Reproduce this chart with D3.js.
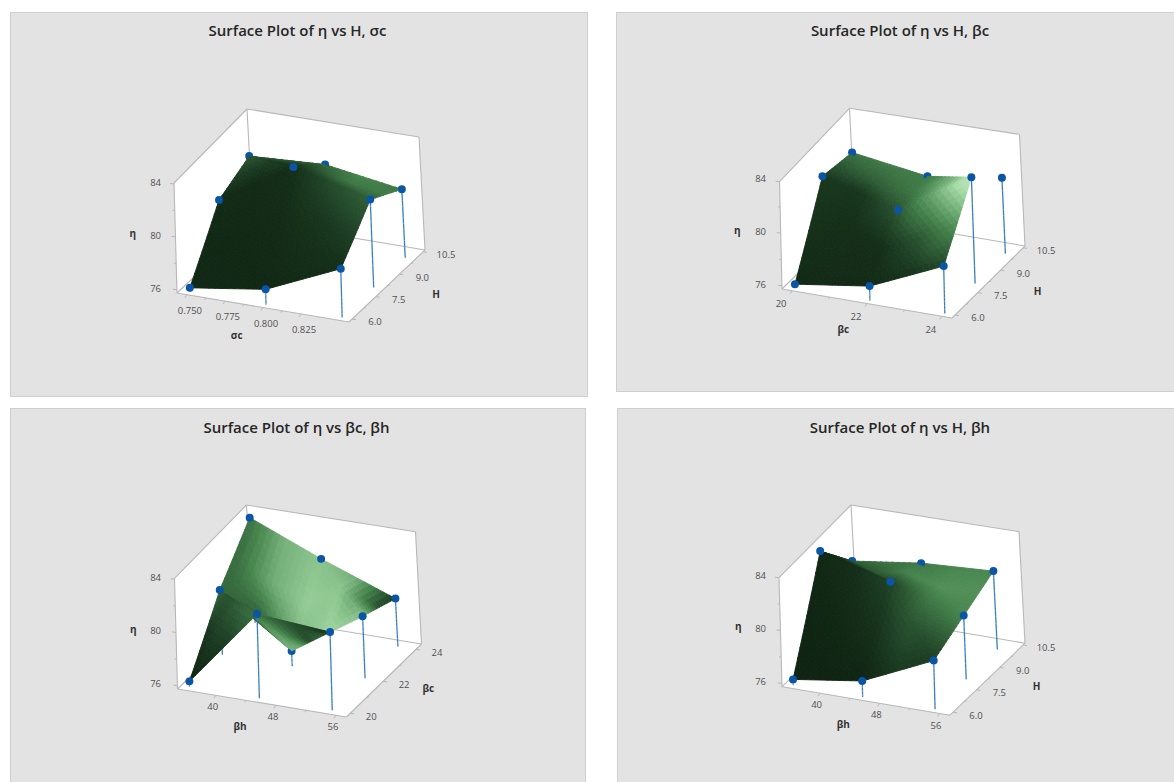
<!DOCTYPE html>
<html><head><meta charset="utf-8">
<script src="https://cdn.jsdelivr.net/npm/d3@7"></script>
<style>html,body{margin:0;padding:0;background:#fff;overflow:hidden}svg{display:block}text{font-family:"Open Sans","Noto Sans",sans-serif}</style>
</head><body><svg id="c" width="1174" height="782"></svg>
<script>
// ---- data ----
const titles = ["Surface Plot of η vs H, σc","Surface Plot of η vs H, βc","Surface Plot of η vs βc, βh","Surface Plot of η vs H, βh"];
const xNames = ["σc","βc","βh","βh"];
const yNames = ["H","H","βc","H"];
const zName = "η";
const sigmaLevels = [0.75,0.80,0.85];
const betaCLevels = [20,22,24];
const betaHLevels = [36,45.3,55];
const hLevels = [6,8,10];
const etaHSigma = [[76.05,76.9,79.4],[80.4,83.8,82.3],[81.4,81.7,80.8]];
const etaHBetaC = [[76.03,76.84,79.26],[81.92,80.31,83.59],[81.43,80.54,81.32]];
const etaBetaCBetaH = [[76.15,82.04,81.57],[80.6,76.9,80.36],[83.63,81.38,79.3]];
const etaHBetaH = [[76.19,76.95,79.37],[83.59,82.12,80.48],[80.58,81.27,81.55]];
const sigmaTicks = [0.75,0.775,0.80,0.825];
const betaCTicks = [20,22,24];
const betaHTicks = [40,48,56];
const hTicks = [6,7.5,9,10.5];
const etaTicks = [76,80,84];
// ---- surface tone stops, 0 dark to 1+ light, front row first ----
const tones = [
 [[.02,.02,.02,.03,.05],[.02,.02,.03,.08,.15],[.03,.03,.05,.2,.3],[.12,.12,.2,.42,.45],[.25,.3,.35,.5,.42]],
 [[.02,.03,.03,.06,.15],[.06,.05,.05,.25,.6],[.1,.08,.25,.7,1.2],[.25,.3,.42,.7,.8],[.4,.45,.45,.5,.6]],
 [[0,.1,.4,.2,.03],[.05,.3,.65,.2,.75],[.35,.25,.75,.95,.85],[.35,.7,.9,.85,.2],[.4,.75,.85,.7,.1]],
 [[0,0,0,.1,.12],[0,.02,.06,.25,.3],[.02,.05,.15,.42,.5],[.08,.25,.48,.55,.55],[.3,.42,.42,.5,.5]]
];
// ---- layout ----
const panels = [
 {r:[10,12,577,384],tx:297.5,ty:31,o:[177,293],ux:[172,29],uy:[76,-72],uz:[-3,-110],tv:2,tu:1,zTop:84.07,xs:sigmaLevels,ys:hLevels,zz:etaHSigma,xd:[.7435,.8565],yd:[5.807,10.626],xt:sigmaTicks,yt:hTicks,xf:d3.format(".3f"),yf:d3.format(".1f"),xo:[3,16],yo:[23,3],xl:[236.7,335],yl:[436,294],zl:[132.7,233.3],zx:161},
 {r:[616,12,560,379],tx:900,ty:31,o:[782,289],ux:[170,29],uy:[73,-72],uz:[-2.5,-107.3],tv:1.4,tu:3,zTop:83.92,xs:betaCLevels,ys:hLevels,zz:etaHBetaC,xd:[19.73,24.27],yd:[5.807,10.626],xt:betaCTicks,yt:hTicks,xf:d3.format("d"),yf:d3.format(".1f"),xo:[-11,13],yo:[23,3],xl:[843.3,329],yl:[1037.7,291.7],zl:[737.3,230.7],zx:766},
 {r:[10,408,575,376],tx:296.5,ty:428,o:[177.5,689],ux:[169,28],uy:[75,-73],uz:[-3,-110.7],tv:.3,tu:1.3,zTop:84.07,xs:betaHLevels,ys:betaCLevels,zz:etaBetaCBetaH,xd:[34.9,57.4],yd:[19.77,24.34],xt:betaHTicks,yt:betaCTicks,xf:d3.format("d"),yf:d3.format("d"),xo:[-3,11.5],yo:[21,3],xl:[240,726],yl:[428.3,688.3],zl:[133.3,629],zx:161},
 {r:[617,408,559,376],tx:900,ty:428,o:[782,686.7],ux:[168,28.5],uy:[75,-72],uz:[-3,-109],tv:.7,tu:1.9,zTop:83.98,xs:betaHLevels,ys:hLevels,zz:etaHBetaH,xd:[34.9,57.4],yd:[5.807,10.626],xt:betaHTicks,yt:hTicks,xf:d3.format("d"),yf:d3.format(".1f"),xo:[-3.5,11.8],yo:[23,3],xl:[843.3,724],yl:[1036.7,686.7],zl:[738.3,626.7],zx:766}
];
const tone = d3.scaleLinear().domain([0,.15,.5,1,1.2]).range(["#0f2412","#1f4226","#48874f","#aadfaa","#c4e0c4"]).clamp(true);
const svg = d3.select("#c");
const N = 12;

panels.forEach((p,pi)=>{
  const g = svg.append("g");
  g.append("rect").attr("x",p.r[0]+.5).attr("y",p.r[1]+.5).attr("width",p.r[2]).attr("height",p.r[3]).attr("fill","#e3e3e3").attr("stroke","#cfcfcf");
  g.append("text").attr("x",p.tx).attr("y",p.ty+5).attr("text-anchor","middle").attr("font-size",15).attr("font-weight",600).attr("fill","#262626").text(titles[pi]);
  const xS = d3.scaleLinear().domain(p.xd).range([0,1]);
  const yS = d3.scaleLinear().domain(p.yd).range([0,1]);
  const zScale = d3.scaleLinear().domain([75.75,p.zTop]).range([0,1]);
  const P = (u,v,w)=>[p.o[0]+p.ux[0]*u+p.uy[0]*v+(p.uz[0]-3*v)*w, p.o[1]+p.ux[1]*u+p.uy[1]*v+(p.uz[1]-p.tv*v-p.tu*u)*w];
  const det = p.ux[0]*p.uy[1]-p.uy[0]*p.ux[1];
  const a = (-p.uz[0]*p.uy[1]+p.uy[0]*p.uz[1])/det;
  const b = (-p.ux[0]*p.uz[1]+p.uz[0]*p.ux[1])/det;
  const near = (u,v,w)=>a*u+b*v+w;
  const line = d3.line();
  // box
  const box = g.append("g");
  box.append("path").attr("d",line([P(0,0,0),P(1,0,0),P(1,1,0),P(1,1,1),P(0,1,1),P(0,0,1)])+"Z").attr("fill","#fff");
  const edges = [[[0,0,0],[1,0,0]],[[1,0,0],[1,1,0]],[[1,1,0],[0,1,0]],[[0,1,0],[0,0,0]],[[0,0,0],[0,0,1]],[[0,0,1],[0,1,1]],[[0,1,1],[1,1,1]],[[1,1,1],[1,1,0]],[[0,1,0],[0,1,1]]];
  box.selectAll(".e").data(edges).join("path").attr("fill","none").attr("stroke","#b8b8b8").attr("stroke-width",1.1)
    .attr("d",d=>line(d.map(q=>P(...q))));
  // ticks
  const tick = (q,dx,dy)=>{const s=P(...q);box.append("path").attr("d",line([s,[s[0]+dx,s[1]+dy]])).attr("stroke","#b8b8b8").attr("fill","none");};
  const lab = (x,y,t,anchor,bold)=>g.append("text").attr("x",x).attr("y",y).attr("text-anchor",anchor||"middle").attr("dy","0.35em").attr("font-size",bold?10:9.5).attr("font-weight",bold?700:400).attr("fill",bold?"#333":"#505050").text(t);
  d3.range(76,84.5,2).forEach(t=>tick([0,0,Math.min(1,zScale(t))],-(t%4?2:4),t%4?0:-.5));
  etaTicks.forEach(t=>lab(p.zx,P(0,0,zScale(t))[1]-1.5,t,"end"));
  const xTickStep = p.xt[1]-p.xt[0], yTickStep=p.yt[1]-p.yt[0];
  d3.range(p.xt[0],p.xt[p.xt.length-1]+xTickStep/4,xTickStep/2).forEach((t,i)=>{const u=xS(t);if(u<=1)tick([u,0,0],i%2?-1:-2,i%2?2:3);});
  d3.range(p.yt[0],p.yt[p.yt.length-1]+yTickStep/4,yTickStep/2).forEach((t,i)=>{const v=yS(t);if(v<=1)tick([1,v,0],i%2?2:4,i%2?0:.5);});
  p.xt.forEach(t=>{const s=P(xS(t),0,0);lab(s[0]+p.xo[0],s[1]+p.xo[1],p.xf(t));});
  p.yt.forEach(t=>{const s=P(1,yS(t),0);lab(s[0]+p.yo[0],s[1]+p.yo[1],p.yf(t));});
  lab(p.xl[0],p.xl[1],xNames[pi],"middle",true);
  lab(p.yl[0],p.yl[1],yNames[pi],"middle",true);
  lab(p.zl[0],p.zl[1],zName,"middle",true);
  // surface: each grid cell is split along its anti-diagonal into two flat facets
  const mix=(A,B,t)=>A+(B-A)*t;
  const at=(fx,fy)=>{
    const i=Math.min(Math.floor(fx),1),j=Math.min(Math.floor(fy),1),s=fx-i,t=fy-j,Z=p.zz;
    const z = s+t<=1 ? Z[j][i]+s*(Z[j][i+1]-Z[j][i])+t*(Z[j+1][i]-Z[j][i])
                     : Z[j+1][i+1]+(1-s)*(Z[j+1][i]-Z[j+1][i+1])+(1-t)*(Z[j][i+1]-Z[j+1][i+1]);
    return [xS(mix(p.xs[i],p.xs[i+1],s)),yS(mix(p.ys[j],p.ys[j+1],t)),zScale(z)];
  };
  const shade=(fx,fy)=>{
    const X=Math.min(fx*2,3.9999),Y=Math.min(fy*2,3.9999),i=Math.floor(X),j=Math.floor(Y),s=X-i,t=Y-j,T=tones[pi];
    return mix(mix(T[j][i],T[j][i+1],s),mix(T[j+1][i],T[j+1][i+1],s),t);
  };
  const els=[];
  const addTri=(q)=>{
    const pts=q.map(c=>at(c[0]/N,c[1]/N));
    const s=q.map(c=>P(...at(c[0]/N,c[1]/N)));
    const area=Math.abs((s[1][0]-s[0][0])*(s[2][1]-s[0][1])-(s[2][0]-s[0][0])*(s[1][1]-s[0][1]))/2;
    if(area<.12) return;
    const cx=d3.mean(q,c=>c[0])/N, cy=d3.mean(q,c=>c[1])/N;
    const col=tone(shade(cx,cy));
    els.push({k:d3.mean(pts,c=>near(...c)),d:line(s)+"Z",fill:col,stroke:col,sw:.9});
  };
  for(let j=0;j<2*N;j++)for(let i=0;i<2*N;i++){
    // sample just inside each sub-cell so the facet of its own side of the crease is used
    addTri([[i,j],[i+1-1e-6,j],[i,j+1-1e-6]]);
    addTri([[i+1-1e-6,j+1e-6],[i+1-1e-6,j+1-1e-6],[i+1e-6,j+1-1e-6]]);
  }
  const sym=d3.symbol().type(d3.symbolCircle).size(50);
  p.ys.forEach((yv,j)=>p.xs.forEach((xv,i)=>{
    const u=xS(xv),v=yS(yv),w=zScale(p.zz[j][i]);
    const seg=12;
    for(let s=0;s<seg;s++){
      const w1=w*(1-s/seg),w2=w*(1-(s+1)/seg);
      els.push({k:near(u,v,(w1+w2)/2),d:line([P(u,v,w1),P(u,v,w2)]),fill:"none",stroke:"#3a7fbd",sw:1.3});
    }
    const c=P(u,v,w);
    els.push({k:near(u,v,w)+.04,d:sym(),tr:`translate(${c[0]},${c[1]})`,fill:"#0a55a5",stroke:"none",sw:0});
  }));
  els.sort((A,B)=>A.k-B.k);
  g.append("g").selectAll("path").data(els).join("path")
    .attr("d",d=>d.d).attr("transform",d=>d.tr||null).attr("fill",d=>d.fill).attr("stroke",d=>d.stroke).attr("stroke-width",d=>d.sw);
});
</script></body></html>
